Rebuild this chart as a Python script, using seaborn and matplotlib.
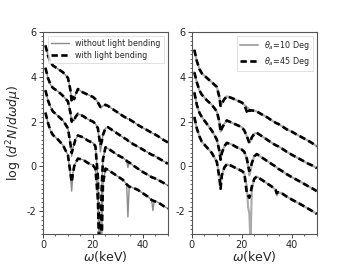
import numpy as np
import pandas as pd
import matplotlib
matplotlib.use('Agg')
import matplotlib.pyplot as plt
import seaborn as sns
from matplotlib.ticker import MultipleLocator

# energy grid (keV), left panel
x_left = [1, 2, 3, 4, 6, 8, 10, 11, 11.5, 12, 12.5, 13, 14, 16, 18, 20, 21, 22, 22.5, 23,
          23.5, 24, 25, 26, 28, 30, 32, 33.5, 34, 34.5, 36, 38, 40, 42, 43.5, 44, 44.5, 46, 48, 50]

# without light bending (grey)
left_nobend = [
    [5.4, 4.95, 4.65, 4.5, 4.35, 4.2, 3.95, 3.4, 2.9, 3.1, 3.0, 3.2, 3.45, 3.3, 3.2, 3.1, 3.0, 2.85, 2.75, 2.65,
     2.65, 2.7, 2.75, 2.7, 2.55, 2.4, 2.25, 2.15, 2.1, 2.1, 2.0, 1.85, 1.72, 1.6, 1.5, 1.47, 1.45, 1.35, 1.2, 1.07],
    [4.4, 3.95, 3.65, 3.5, 3.35, 3.15, 2.9, 2.4, 1.95, 2.1, 2.05, 2.2, 2.35, 2.25, 2.1, 2.0, 1.9, 1.7, 1.2, 0.65,
     1.0, 1.4, 1.7, 1.75, 1.6, 1.45, 1.3, 1.2, 1.15, 1.12, 1.0, 0.88, 0.75, 0.62, 0.52, 0.5, 0.48, 0.38, 0.25, 0.12],
    [3.4, 2.95, 2.65, 2.45, 2.25, 2.05, 1.7, 1.0, 0.45, 0.8, 1.0, 1.2, 1.38, 1.3, 1.15, 1.05, 0.9, -0.5, -3.5, -3.5,
     -1.0, 0.3, 0.85, 0.8, 0.65, 0.5, 0.38, 0.25, -0.05, 0.2, 0.05, -0.1, -0.25, -0.38, -0.48, -0.5, -0.52, -0.6, -0.72, -0.85],
    [2.4, 1.95, 1.6, 1.4, 1.2, 0.95, 0.5, -0.4, -1.1, -0.3, 0.0, 0.15, 0.35, 0.3, 0.15, 0.05, -0.1, -1.5, -3.5, -3.5,
     -3.5, -0.8, -0.1, -0.15, -0.3, -0.45, -0.6, -0.8, -2.25, -0.9, -0.95, -1.05, -1.2, -1.35, -1.5, -1.97, -1.55, -1.6, -1.75, -1.88],
]
# with light bending (black dashed)
left_bend = [
    [5.4, 4.95, 4.65, 4.5, 4.35, 4.2, 3.95, 3.4, 2.9, 3.1, 3.0, 3.2, 3.45, 3.3, 3.2, 3.1, 3.0, 2.85, 2.75, 2.65,
     2.65, 2.7, 2.75, 2.7, 2.55, 2.4, 2.25, 2.15, 2.1, 2.1, 2.0, 1.85, 1.72, 1.6, 1.5, 1.47, 1.45, 1.35, 1.2, 1.07],
    [4.4, 3.95, 3.65, 3.5, 3.35, 3.15, 2.9, 2.4, 2.0, 2.1, 2.05, 2.2, 2.35, 2.25, 2.1, 2.0, 1.9, 1.7, 1.3, 0.95,
     1.1, 1.4, 1.7, 1.75, 1.6, 1.45, 1.3, 1.2, 1.15, 1.12, 1.0, 0.88, 0.75, 0.62, 0.52, 0.5, 0.48, 0.38, 0.25, 0.12],
    [3.4, 2.95, 2.65, 2.45, 2.25, 2.05, 1.7, 1.0, 0.6, 0.8, 1.0, 1.2, 1.38, 1.3, 1.15, 1.05, 0.9, -0.5, -3.5, -3.5,
     -1.0, 0.3, 0.85, 0.8, 0.65, 0.5, 0.38, 0.25, 0.2, 0.18, 0.05, -0.1, -0.25, -0.38, -0.48, -0.5, -0.52, -0.6, -0.72, -0.85],
    [2.4, 1.95, 1.6, 1.4, 1.2, 0.95, 0.5, -0.3, -0.7, -0.3, 0.0, 0.15, 0.35, 0.3, 0.15, 0.05, -0.1, -1.5, -3.5, -3.5,
     -3.5, -0.8, -0.1, -0.15, -0.3, -0.45, -0.6, -0.8, -0.85, -0.9, -0.95, -1.05, -1.2, -1.35, -1.5, -1.52, -1.55, -1.6, -1.75, -1.88],
]

# right panel
x_right = [1, 2, 3, 4, 6, 8, 10, 11, 11.5, 12, 13, 14, 16, 18, 20, 21, 22, 22.5, 23, 23.5,
           24, 25, 26, 28, 30, 32, 33.5, 34, 34.5, 36, 38, 40, 42, 44, 46, 48, 50]

# theta = 10 deg (grey)
right_10 = [
    [5.2, 4.7, 4.35, 4.15, 3.95, 3.75, 3.55, 3.1, 2.7, 2.8, 3.0, 3.13, 3.05, 2.95, 2.85, 2.75, 2.65, 2.6, 2.55, 2.5,
     2.5, 2.48, 2.45, 2.32, 2.2, 2.05, 1.95, 1.92, 1.9, 1.8, 1.65, 1.55, 1.42, 1.3, 1.18, 1.05, 0.9],
    [4.2, 3.75, 3.4, 3.2, 2.95, 2.75, 2.45, 2.0, 1.55, 1.7, 1.9, 2.05, 1.95, 1.85, 1.75, 1.6, 1.35, 1.2, 1.05, 1.15,
     1.3, 1.45, 1.5, 1.35, 1.2, 1.05, 0.95, 0.92, 0.9, 0.8, 0.65, 0.52, 0.4, 0.28, 0.15, 0.05, -0.08],
    [3.3, 2.75, 2.4, 2.2, 1.9, 1.6, 1.2, 0.7, 0.3, 0.6, 0.9, 1.05, 0.98, 0.85, 0.75, 0.65, 0.35, 0.0, -0.4, -0.2,
     0.15, 0.45, 0.55, 0.4, 0.25, 0.1, 0.0, -0.05, -0.1, -0.2, -0.35, -0.48, -0.6, -0.72, -0.85, -0.97, -1.1],
    [2.2, 1.7, 1.35, 1.1, 0.85, 0.6, 0.2, -0.4, -0.85, -0.4, -0.05, 0.1, 0.02, -0.1, -0.2, -0.3, -0.9, -1.8, -2.1, -3.5,
     -1.0, -0.55, -0.45, -0.6, -0.75, -0.9, -1.05, -1.3, -1.15, -1.2, -1.35, -1.48, -1.6, -1.72, -1.85, -1.98, -2.12],
]
# theta = 45 deg (black dashed)
right_45 = [
    [5.2, 4.7, 4.35, 4.15, 3.95, 3.75, 3.55, 3.1, 2.7, 2.8, 3.0, 3.13, 3.05, 2.95, 2.85, 2.75, 2.45, 2.35, 2.5, 2.5,
     2.5, 2.48, 2.45, 2.32, 2.2, 2.05, 1.95, 1.92, 1.9, 1.8, 1.65, 1.55, 1.42, 1.3, 1.18, 1.05, 0.9],
    [4.2, 3.75, 3.4, 3.2, 2.95, 2.75, 2.45, 2.0, 1.55, 1.7, 1.9, 2.05, 1.95, 1.85, 1.75, 1.6, 1.35, 1.2, 1.05, 1.15,
     1.3, 1.45, 1.5, 1.35, 1.2, 1.05, 0.95, 0.92, 0.9, 0.8, 0.65, 0.52, 0.4, 0.28, 0.15, 0.05, -0.08],
    [3.3, 2.75, 2.4, 2.2, 1.9, 1.6, 1.2, 0.7, 0.3, 0.6, 0.9, 1.05, 0.98, 0.85, 0.75, 0.65, 0.35, 0.05, -0.2, -0.1,
     0.15, 0.45, 0.55, 0.4, 0.25, 0.1, 0.0, -0.05, -0.1, -0.2, -0.35, -0.48, -0.6, -0.72, -0.85, -0.97, -1.1],
    [2.2, 1.7, 1.35, 1.1, 0.85, 0.6, 0.2, -0.5, -1.0, -0.4, -0.05, 0.1, 0.02, -0.1, -0.2, -0.3, -1.2, -1.3, -1.4, -1.2,
     -0.9, -0.55, -0.45, -0.6, -0.75, -0.9, -1.05, -1.2, -1.15, -1.2, -1.35, -1.48, -1.6, -1.72, -1.85, -1.98, -2.12],
]

sns.set_style("ticks")
plt.rcParams['font.family'] = ['DejaVu Sans']
plt.rcParams['axes.unicode_minus'] = False

fig = plt.figure(figsize=(3.52, 2.64), dpi=100)
ax1 = fig.add_axes([0.122, 0.115, 0.355, 0.764])
ax2 = fig.add_axes([0.545, 0.115, 0.355, 0.764])


def draw_panel(ax, x, grey_sets, black_sets, labels, grey_color, grey_lw):
    for i, (g, b) in enumerate(zip(grey_sets, black_sets)):
        sns.lineplot(x=x, y=g, ax=ax, color=grey_color, lw=grey_lw, sort=False,
                     estimator=None, label=labels[0] if i == 0 else None)
        sns.lineplot(x=x, y=b, ax=ax, color='black', lw=1.9, sort=False,
                     estimator=None, label=labels[1] if i == 0 else None)
        ax.lines[-1].set_dashes((2.4, 1.3))
    ax.set_xlim(0, 50)
    ax.set_ylim(-3, 6)
    ax.xaxis.set_major_locator(MultipleLocator(20))
    ax.xaxis.set_minor_locator(MultipleLocator(5))
    ax.yaxis.set_major_locator(MultipleLocator(2))
    ax.yaxis.set_minor_locator(MultipleLocator(0.2))
    ax.tick_params(axis='both', which='major', labelsize=7, length=3, width=0.6, pad=1.5)
    ax.tick_params(axis='both', which='minor', length=1.5, width=0.5)
    for s in ax.spines.values():
        s.set_linewidth(0.8)
        s.set_color('#555555')
    ax.set_xlabel(r'$\omega$(keV)', fontsize=9, labelpad=-0.5)
    leg = ax.legend(loc='upper right', fontsize=5.8, frameon=True, handlelength=2.2,
                    borderpad=0.4, labelspacing=0.3, fancybox=False)
    leg.get_frame().set_linewidth(0.5)
    leg.get_frame().set_edgecolor('#cccccc')


draw_panel(ax1, x_left, left_nobend, left_bend,
           ['without light bending', 'with light bending'], '#8c8c8c', 1.0)
draw_panel(ax2, x_right, right_10, right_45,
           [r'$\theta_a$=10 Deg', r'$\theta_a$=45 Deg'], '#aaaaaa', 1.5)

ax1.set_ylabel(r'log $(d^2N/d\omega d\mu)$', fontsize=9, labelpad=2)

fig.savefig('out.png', dpi=100)
